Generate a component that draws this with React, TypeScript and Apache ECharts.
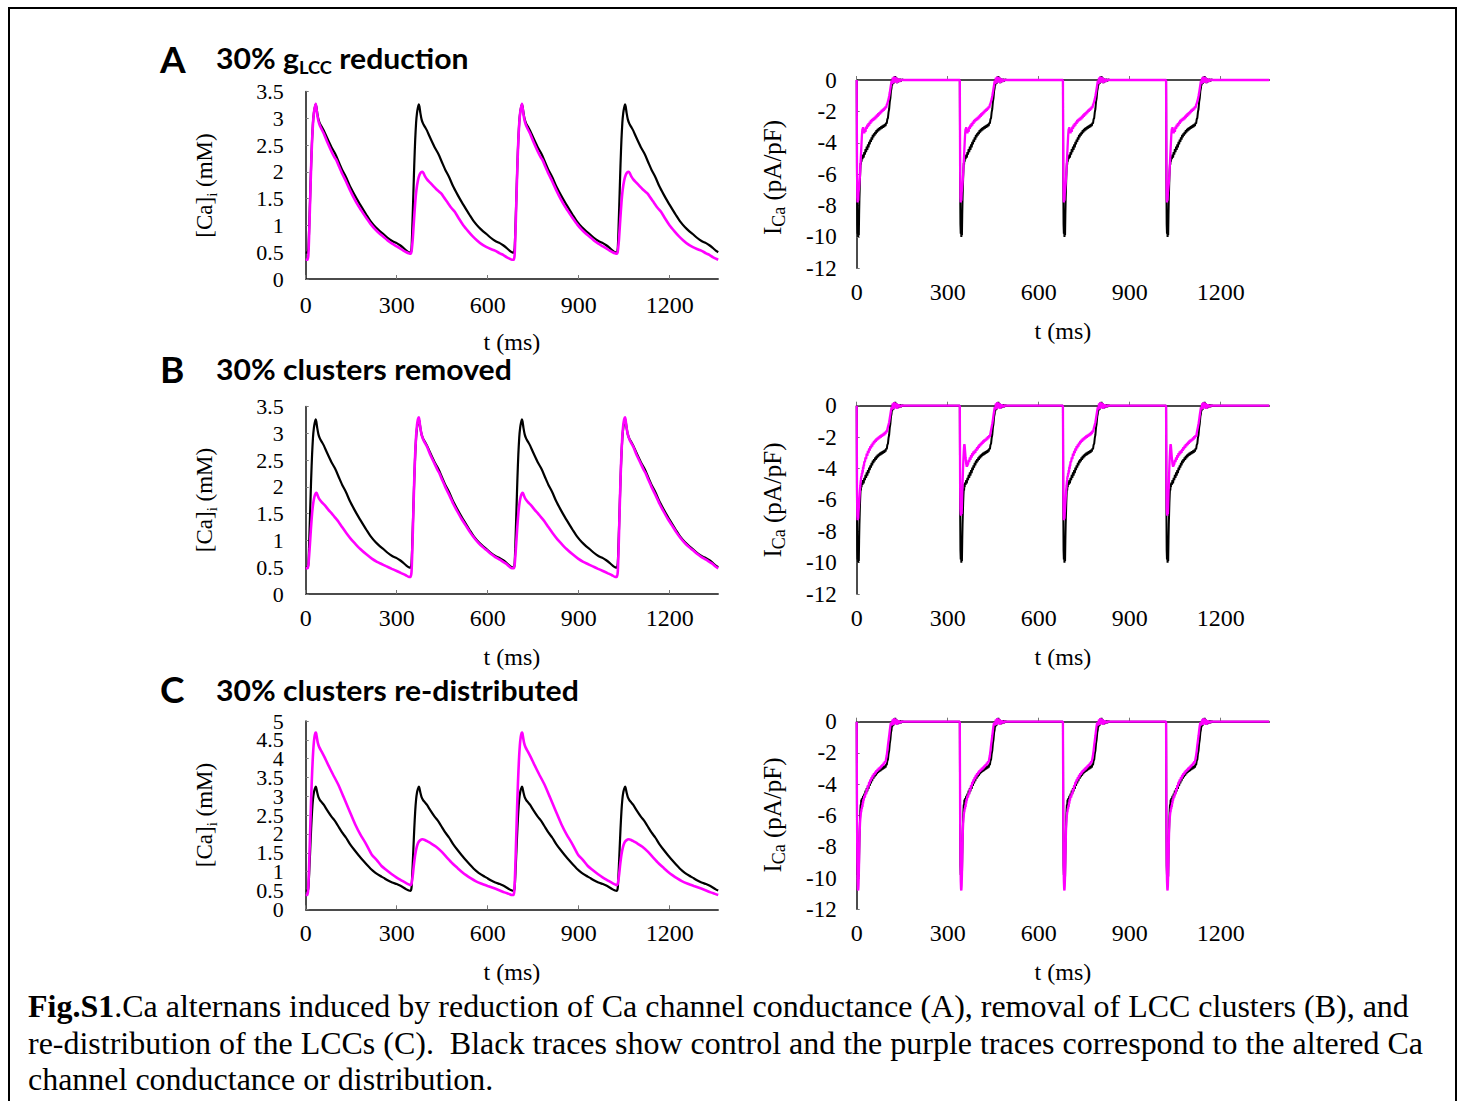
import React, { useEffect, useRef } from "react";
import * as echarts from "echarts";

type Pt = [number, number];

// ---------- axes ----------
const PERIOD = 340;
const T_MAX = 1360;
const X_TICKS = [0, 300, 600, 900, 1200];
const CA_MAX_AB = 3.5;
const CA_MAX_C = 5;
const CA_STEP = 0.5;
const CA_TICKS_AB = [0, 0.5, 1, 1.5, 2, 2.5, 3, 3.5];
const CA_TICKS_C = [0, 0.5, 1, 1.5, 2, 2.5, 3, 3.5, 4, 4.5, 5];
const CA_LABELS_C_WHOLE = [0, 1, 2, 3, 4, 5];
const CA_LABELS_C_HALF = [0.5, 1.5, 2.5, 3.5, 4.5];
const ICA_MIN = -12;
const ICA_STEP = 2;
const ICA_TICKS = [-12, -10, -8, -6, -4, -2, 0];

// ---------- [Ca]i beat shapes (time within beat in ms, value in mM) ----------
const CA_CONTROL_BEAT: Pt[] = [
  [0, 0.5], [6, 0.49], [9, 0.58], [12, 1.05], [15, 1.6], [18, 2.15], [21, 2.6], [24, 2.92], [27, 3.1], [30, 3.2],
  [33, 3.26], [35, 3.22], [38, 3.1], [42, 2.98], [47, 2.9], [53, 2.84], [60, 2.77], [70, 2.64], [85, 2.46],
  [95, 2.36], [101, 2.29], [110, 2.17], [120, 2.04], [133, 1.9], [146, 1.73], [160, 1.58], [175, 1.43],
  [190, 1.29], [201, 1.19], [215, 1.07], [230, 0.97], [245, 0.89], [256, 0.84], [270, 0.77], [285, 0.71],
  [300, 0.67], [311, 0.63], [322, 0.58], [332, 0.53], [340, 0.5],
];
const CA_A_BIG_BEAT: Pt[] = [
  [0, 0.36], [6, 0.36], [9, 0.46], [12, 0.95], [15, 1.55], [18, 2.12], [21, 2.58], [24, 2.9], [27, 3.1], [30, 3.2],
  [33, 3.27], [35, 3.2], [38, 3.07], [42, 2.95], [47, 2.86], [53, 2.79], [60, 2.71], [70, 2.57], [85, 2.38],
  [95, 2.27], [101, 2.22], [110, 2.1], [120, 1.97], [133, 1.82], [146, 1.66], [160, 1.5], [175, 1.35],
  [190, 1.22], [201, 1.13], [215, 1.02], [230, 0.92], [245, 0.84], [256, 0.79], [270, 0.72], [285, 0.66],
  [300, 0.61], [311, 0.57], [322, 0.53], [332, 0.5], [340, 0.48],
];
const CA_A_SMALL_BEAT: Pt[] = [
  [0, 0.48], [6, 0.47], [9, 0.52], [13, 0.75], [17, 1.1], [21, 1.42], [25, 1.66], [30, 1.84], [35, 1.94],
  [40, 1.99], [45, 2.0], [48, 1.98], [53, 1.92], [60, 1.86], [70, 1.8], [80, 1.74], [90, 1.68], [100, 1.63],
  [108, 1.59], [115, 1.53], [125, 1.45], [140, 1.33], [152, 1.25], [165, 1.13], [180, 1.0], [196, 0.89],
  [210, 0.8], [225, 0.72], [240, 0.65], [255, 0.6], [270, 0.56], [284, 0.53], [300, 0.48], [311, 0.45],
  [322, 0.41], [332, 0.38], [340, 0.36],
];
const CA_B_SMALL_BEAT: Pt[] = [
  [0, 0.48], [6, 0.48], [9, 0.55], [13, 0.85], [17, 1.2], [21, 1.5], [25, 1.7], [29, 1.82], [33, 1.88], [36, 1.89],
  [40, 1.83], [45, 1.77], [52, 1.72], [64, 1.65], [75, 1.57], [85, 1.51], [95, 1.44], [108, 1.35], [120, 1.25],
  [135, 1.13], [150, 1.02], [163, 0.94], [180, 0.84], [200, 0.74], [218, 0.66], [235, 0.6], [250, 0.56],
  [265, 0.52], [284, 0.47], [300, 0.43], [315, 0.39], [330, 0.35], [340, 0.32],
];
const CA_B_BIG_BEAT: Pt[] = [
  [0, 0.32], [6, 0.32], [9, 0.42], [12, 0.92], [15, 1.55], [18, 2.15], [21, 2.62], [24, 2.95], [27, 3.15],
  [30, 3.26], [33, 3.3], [35, 3.24], [38, 3.1], [42, 2.98], [47, 2.89], [53, 2.82], [60, 2.75], [70, 2.61],
  [85, 2.43], [95, 2.31], [101, 2.25], [110, 2.13], [120, 2.0], [133, 1.85], [146, 1.69], [160, 1.54],
  [175, 1.39], [190, 1.26], [201, 1.16], [215, 1.05], [230, 0.95], [245, 0.87], [256, 0.82], [270, 0.75],
  [285, 0.69], [300, 0.64], [311, 0.6], [322, 0.56], [332, 0.51], [340, 0.48],
];
const CA_C_BIG_BEAT: Pt[] = [
  [0, 0.38], [5, 0.38], [8, 0.5], [11, 1.1], [14, 1.9], [17, 2.7], [20, 3.4], [23, 3.95], [26, 4.35], [29, 4.58],
  [32, 4.68], [34, 4.69], [36, 4.6], [40, 4.42], [45, 4.3], [53, 4.18], [62, 4.04], [75, 3.82], [90, 3.58],
  [108, 3.3], [125, 2.98], [145, 2.6], [163, 2.26], [180, 1.99], [200, 1.72], [218, 1.45], [235, 1.3],
  [250, 1.15], [265, 1.05], [284, 0.93], [300, 0.84], [315, 0.77], [330, 0.7], [340, 0.66],
];
const CA_C_SMALL_BEAT: Pt[] = [
  [0, 0.66], [5, 0.64], [9, 0.68], [13, 0.9], [17, 1.2], [21, 1.45], [26, 1.65], [31, 1.77], [37, 1.83], [45, 1.86],
  [53, 1.84], [62, 1.8], [75, 1.74], [90, 1.66], [108, 1.53], [125, 1.38], [145, 1.21], [160, 1.1], [174, 1.0],
  [190, 0.9], [205, 0.82], [220, 0.75], [240, 0.68], [260, 0.62], [284, 0.55], [300, 0.5], [315, 0.45],
  [330, 0.41], [340, 0.38],
];

// ---------- I_Ca beat shapes (time within beat in ms, value in pA/pF) ----------
const ICA_TAIL: Pt[] = [
  [117, -0.25], [119, 0.15], [121, -0.2], [123, 0.22], [125, -0.1], [127, 0.2], [129, -0.15], [131, 0.15],
  [133, -0.2], [135, 0.1], [137, -0.1], [139, 0.08], [141, -0.12], [143, 0.05], [146, -0.06], [149, 0.02],
  [153, 0], [340, 0],
];
const ICA_CONTROL_BEAT: Pt[] = [
  [0, 0], [1, -6.5], [2, -9.2], [3, -9.8], [4, -9.4], [5, -10.0], [6, -9.6], [7, -9.9], [8, -8.6], [9, -7.6],
  [10, -6.9], [11, -6.2], [12, -5.7], [13, -5.3], [14, -5.4], [15, -5.0], [16, -5.2], [17, -4.9], [19, -5.05],
  [21, -4.75], [23, -4.95], [25, -4.6], [27, -4.75], [29, -4.4], [31, -4.6], [33, -4.25], [35, -4.45],
  [37, -4.1], [39, -4.3], [41, -3.95], [43, -4.1], [45, -3.8], [47, -3.95], [49, -3.65], [51, -3.8],
  [53, -3.5], [55, -3.65], [57, -3.4], [59, -3.55], [61, -3.3], [63, -3.45], [65, -3.2], [67, -3.35],
  [69, -3.12], [71, -3.27], [73, -3.05], [75, -3.2], [77, -3.0], [79, -3.15], [81, -2.95], [83, -3.1],
  [85, -2.9], [87, -3.05], [89, -2.85], [91, -3.0], [93, -2.8], [95, -2.93], [97, -2.72], [99, -2.78],
  [101, -2.5], [103, -2.42], [105, -2.05], [107, -1.85], [109, -1.4], [111, -1.15], [113, -0.7],
  [115, -0.5], [116, -0.2], [117, -0.35], [119, 0.1], [121, -0.25], [123, 0.2], [125, -0.15], [127, 0.25],
  [129, -0.1], [131, 0.15], [133, -0.2], [135, 0.1], [137, -0.15], [139, 0.05], [141, -0.12], [143, 0.08],
  [146, -0.08], [149, 0.03], [155, 0], [340, 0],
];
const ICA_A_BEAT: Pt[] = [
  [0, 0], [1, -5.5], [2, -7.5], [3, -7.8], [4, -7.5], [5, -7.7], [6, -7.2], [7, -7.0], [8, -6.8], [9, -6.6],
  [10, -6.3], [11, -6.0], [12, -5.6], [13, -5.2], [14, -4.8], [15, -4.4], [16, -4.0], [17, -3.6], [18, -3.3],
  [19, -3.1], [20, -3.25], [21, -3.0], [22, -3.2], [23, -3.35], [24, -3.15], [25, -3.4], [27, -3.1],
  [29, -3.3], [31, -2.98], [33, -3.12], [35, -2.85], [37, -3.0], [39, -2.75], [41, -2.9], [43, -2.65],
  [45, -2.8], [47, -2.55], [49, -2.7], [51, -2.48], [53, -2.62], [55, -2.42], [57, -2.56], [59, -2.35],
  [61, -2.5], [63, -2.28], [65, -2.42], [67, -2.2], [69, -2.34], [71, -2.12], [73, -2.26], [75, -2.05],
  [77, -2.18], [79, -1.98], [81, -2.1], [83, -1.9], [85, -2.03], [87, -1.83], [89, -1.96], [91, -1.76],
  [93, -1.88], [95, -1.68], [97, -1.78], [99, -1.58], [101, -1.5], [103, -1.35], [105, -1.22], [107, -1.02],
  [109, -0.8], [111, -0.55], [113, -0.3], [115, -0.05],
  ...ICA_TAIL,
];
const ICA_B_PLAIN_BEAT: Pt[] = [
  [0, 0], [1, -5.2], [2, -7.0], [3, -7.3], [4, -7.1], [5, -7.2], [6, -6.8], [7, -6.5], [8, -6.2], [9, -5.9],
  [10, -5.6], [11, -5.3], [12, -5.1], [13, -4.85], [14, -4.7], [15, -4.5], [16, -4.55], [17, -4.3],
  [18, -4.4], [19, -4.1], [20, -4.25], [21, -3.9], [22, -4.05], [23, -3.75], [24, -3.85], [25, -3.55],
  [27, -3.6], [29, -3.3], [31, -3.4], [33, -3.05], [35, -3.2], [37, -2.88], [39, -3.02], [41, -2.72],
  [43, -2.86], [45, -2.58], [47, -2.72], [49, -2.47], [51, -2.6], [53, -2.35], [55, -2.48], [57, -2.25],
  [59, -2.38], [61, -2.16], [63, -2.3], [65, -2.08], [67, -2.22], [69, -2.02], [71, -2.15], [73, -1.96],
  [75, -2.1], [77, -1.9], [79, -2.04], [81, -1.85], [83, -1.98], [85, -1.8], [87, -1.93], [89, -1.74],
  [91, -1.88], [93, -1.68], [95, -1.8], [97, -1.6], [99, -1.7], [101, -1.5], [103, -1.35], [105, -1.2],
  [107, -1.05], [109, -0.8], [111, -0.55], [113, -0.3], [115, -0.1],
  ...ICA_TAIL,
];
const ICA_B_NOTCH_BEAT: Pt[] = [
  [0, 0], [1, -5.0], [2, -6.6], [3, -6.9], [4, -7.0], [5, -6.8], [6, -6.9], [7, -6.3], [8, -5.6], [9, -5.0],
  [10, -4.4], [11, -3.8], [12, -3.3], [13, -2.9], [14, -2.6], [15, -2.45], [16, -2.55], [17, -2.8],
  [18, -3.05], [19, -3.3], [20, -3.5], [21, -3.7], [22, -3.8], [23, -3.9], [24, -3.75], [25, -3.85],
  [26, -3.6], [27, -3.75], [29, -3.45], [31, -3.6], [33, -3.3], [35, -3.45], [37, -3.15], [39, -3.3],
  [41, -3.02], [43, -3.18], [45, -2.92], [47, -3.08], [49, -2.85], [51, -3.0], [53, -2.75], [55, -2.88],
  [57, -2.65], [59, -2.78], [61, -2.55], [63, -2.68], [65, -2.45], [67, -2.58], [69, -2.38], [71, -2.5],
  [73, -2.3], [75, -2.42], [77, -2.22], [79, -2.35], [81, -2.15], [83, -2.28], [85, -2.1], [87, -2.22],
  [89, -2.02], [91, -2.15], [93, -1.95], [95, -2.08], [97, -1.88], [99, -1.98], [101, -1.75], [103, -1.55],
  [105, -1.35], [107, -1.15], [109, -0.9], [111, -0.6], [113, -0.35], [115, -0.1],
  ...ICA_TAIL,
];
const ICA_C_BEAT: Pt[] = [
  [0, 0], [1, -6.0], [2, -9.0], [3, -10.2], [4, -10.7], [5, -10.8], [6, -10.5], [7, -9.8], [8, -8.9],
  [9, -7.9], [10, -7.0], [11, -6.5], [12, -6.2], [13, -6.0], [14, -5.8], [15, -5.75], [16, -5.55],
  [17, -5.6], [18, -5.35], [19, -5.45], [20, -5.15], [21, -5.25], [22, -4.95], [23, -5.05], [25, -4.75],
  [27, -4.85], [29, -4.55], [31, -4.65], [33, -4.3], [35, -4.4], [37, -4.05], [39, -4.15], [41, -3.85],
  [43, -3.95], [45, -3.7], [47, -3.8], [49, -3.55], [51, -3.65], [53, -3.4], [55, -3.5], [57, -3.3],
  [59, -3.4], [61, -3.2], [63, -3.3], [65, -3.1], [67, -3.2], [69, -3.02], [71, -3.12], [73, -2.95],
  [75, -3.05], [77, -2.88], [79, -2.98], [81, -2.8], [83, -2.9], [85, -2.72], [87, -2.82], [89, -2.62],
  [91, -2.72], [93, -2.52], [95, -2.6], [97, -2.35], [99, -2.15], [101, -1.85], [103, -1.5], [105, -1.2],
  [107, -0.9], [109, -0.55], [111, -0.25], [113, -0.05], [115, -0.25],
  ...ICA_TAIL.slice(1),
];

// beat order over the 4 stimuli
const CA_A_ALT_BEATS = [CA_A_BIG_BEAT, CA_A_SMALL_BEAT, CA_A_BIG_BEAT, CA_A_SMALL_BEAT];
const CA_B_ALT_BEATS = [CA_B_SMALL_BEAT, CA_B_BIG_BEAT, CA_B_SMALL_BEAT, CA_B_BIG_BEAT];
const CA_C_ALT_BEATS = [CA_C_BIG_BEAT, CA_C_SMALL_BEAT, CA_C_BIG_BEAT, CA_C_SMALL_BEAT];
const CA_CONTROL_BEATS = [CA_CONTROL_BEAT, CA_CONTROL_BEAT, CA_CONTROL_BEAT, CA_CONTROL_BEAT];
const ICA_CONTROL_BEATS = [ICA_CONTROL_BEAT, ICA_CONTROL_BEAT, ICA_CONTROL_BEAT, ICA_CONTROL_BEAT];
const ICA_A_ALT_BEATS = [ICA_A_BEAT, ICA_A_BEAT, ICA_A_BEAT, ICA_A_BEAT];
const ICA_B_ALT_BEATS = [ICA_B_PLAIN_BEAT, ICA_B_NOTCH_BEAT, ICA_B_PLAIN_BEAT, ICA_B_NOTCH_BEAT];
const ICA_C_ALT_BEATS = [ICA_C_BEAT, ICA_C_BEAT, ICA_C_BEAT, ICA_C_BEAT];

const TITLES = ["30% g", "30% clusters removed", "30% clusters re-distributed"];
const LETTERS = ["A", "B", "C"];
const CAPTION_BOLD = "Fig.S1";
const CAPTION_LINES = [
  ".Ca alternans induced by reduction of Ca channel conductance (A), removal of LCC clusters (B), and",
  "re-distribution of the LCCs (C).  Black traces show control and the purple traces correspond to the altered Ca",
  "channel conductance or distribution.",
];

function chain(beats: Pt[][]): Pt[] {
  const out: Pt[] = [];
  beats.forEach((beat, k) => {
    const start = k * PERIOD;
    beat.forEach(([t, v], i) => {
      if (k > 0 && i === 0) return;
      const tt = start + t;
      if (tt <= T_MAX) out.push([tt, v]);
    });
  });
  return out;
}

function measure(text: string, font: string): number {
  const ctx = document.createElement("canvas").getContext("2d");
  if (!ctx) return text.length * 10;
  ctx.font = font;
  return ctx.measureText(text).width;
}

const SERIF = "Liberation Serif";
const SANS = "Lato";
const BLACK = "#000000";
const MAGENTA = "#ff00ff";

// layout of the six plot areas (pixels)
const PLOT_W = 412.5;
const LAYOUT = [
  { left: 305.7, top: 91.5, height: 187.5, labelMargin: 14 },
  { left: 856.7, top: 80, height: 188.3, labelMargin: 12 },
  { left: 305.7, top: 406.5, height: 187.5, labelMargin: 12 },
  { left: 856.7, top: 405.7, height: 188.3, labelMargin: 12 },
  { left: 305.7, top: 721, height: 188.3, labelMargin: 12 },
  { left: 856.7, top: 721.7, height: 187.6, labelMargin: 12 },
];

export default function App() {
  const ref = useRef<HTMLDivElement>(null);

  useEffect(() => {
    if (!ref.current) return;
    const chart = echarts.init(ref.current, undefined, { renderer: "svg" });

    const panels = [
      { kind: "ca", max: CA_MAX_AB, ticks: CA_TICKS_AB, labels: CA_TICKS_AB, control: chain(CA_CONTROL_BEATS), alt: chain(CA_A_ALT_BEATS) },
      { kind: "ica", ticks: ICA_TICKS, labels: ICA_TICKS, control: chain(ICA_CONTROL_BEATS), alt: chain(ICA_A_ALT_BEATS) },
      { kind: "ca", max: CA_MAX_AB, ticks: CA_TICKS_AB, labels: CA_TICKS_AB, control: chain(CA_CONTROL_BEATS), alt: chain(CA_B_ALT_BEATS) },
      { kind: "ica", ticks: ICA_TICKS, labels: ICA_TICKS, control: chain(ICA_CONTROL_BEATS), alt: chain(ICA_B_ALT_BEATS) },
      { kind: "ca", max: CA_MAX_C, ticks: CA_TICKS_C, labels: CA_LABELS_C_WHOLE, control: chain(CA_CONTROL_BEATS), alt: chain(CA_C_ALT_BEATS) },
      { kind: "ica", ticks: ICA_TICKS, labels: ICA_TICKS, control: chain(ICA_CONTROL_BEATS), alt: chain(ICA_C_ALT_BEATS) },
    ];

    const grid = LAYOUT.map((l) => ({
      left: l.left,
      top: l.top,
      width: PLOT_W,
      height: l.height,
      containLabel: false,
      outerBoundsMode: "none",
    }));

    const fmt = (v: number) => String(v);

    const xAxis = LAYOUT.map((l, i) => ({
      gridIndex: i,
      type: "value",
      min: 0,
      max: T_MAX,
      axisLine: { show: true, lineStyle: { color: "#111", width: 1.5 } },
      axisTick: { show: true, inside: true, length: 4, customValues: X_TICKS, lineStyle: { color: "#777", width: 1 } },
      axisLabel: {
        customValues: X_TICKS,
        formatter: fmt,
        color: "#000",
        fontFamily: SERIF,
        fontSize: 24,
        margin: l.labelMargin,
      },
      splitLine: { show: false },
      name: "t (ms)",
      nameLocation: "middle",
      nameGap: 51,
      nameTextStyle: { color: "#000", fontFamily: SERIF, fontSize: 24 },
    }));

    const yAxis: any[] = panels.map((p, i) => {
      const isCa = p.kind === "ca";
      return {
        gridIndex: i,
        type: "value",
        position: "left",
        min: isCa ? 0 : ICA_MIN,
        max: isCa ? p.max : 0,
        interval: isCa ? CA_STEP : ICA_STEP,
        axisLine: { show: true, lineStyle: { color: "#111", width: 1.5 } },
        axisTick: {
          show: true,
          inside: true,
          length: 3,
          customValues: p.ticks,
          lineStyle: { color: "#777", width: 1 },
        },
        axisLabel: {
          customValues: p.labels,
          formatter: fmt,
          color: "#000",
          fontFamily: SERIF,
          fontSize: isCa ? 22 : 23,
          margin: isCa ? 22 : 20,
          showMinLabel: true,
          showMaxLabel: true,
        },
        splitLine: { show: false },
      };
    });
    // second label layer for the densely labelled [Ca]i axis of panel C
    yAxis.push({
      gridIndex: 4,
      type: "value",
      position: "left",
      offset: 0,
      min: 0,
      max: CA_MAX_C,
      interval: CA_STEP,
      axisLine: { show: false },
      axisTick: { show: false },
      axisLabel: {
        customValues: CA_LABELS_C_HALF,
        formatter: fmt,
        color: "#000",
        fontFamily: SERIF,
        fontSize: 22,
        margin: 22,
      },
      splitLine: { show: false },
    });

    const series: any[] = [];
    panels.forEach((p, i) => {
      const isCa = p.kind === "ca";
      series.push({
        type: "line",
        xAxisIndex: i,
        yAxisIndex: i,
        data: p.control,
        showSymbol: false,
        symbol: "none",
        smooth: isCa ? 0.2 : false,
        clip: false,
        lineStyle: { color: BLACK, width: isCa ? 2.2 : 2.0 },
        z: 2,
      });
      series.push({
        type: "line",
        xAxisIndex: i,
        yAxisIndex: i,
        data: p.alt,
        showSymbol: false,
        symbol: "none",
        smooth: isCa ? 0.2 : false,
        clip: false,
        lineStyle: { color: MAGENTA, width: isCa ? 2.6 : 2.3 },
        z: 3,
      });
    });

    // text scaling to match the reference widths
    const titleFont = `bold 28px ${SANS}`;
    const titleScale = 296 / measure(TITLES[1], titleFont);
    const capFontSize = 31;
    const capW =
      measure(CAPTION_BOLD, `bold ${capFontSize}px "${SERIF}"`) +
      measure(CAPTION_LINES[0], `${capFontSize}px "${SERIF}"`);
    const capScale = 1382 / capW;

    const titleRich = {
      b: { fontSize: 28, fontFamily: SANS, fontWeight: "bold" },
      s: { fontSize: 17, fontFamily: SANS, fontWeight: "bold", padding: [18, 0, 0, 0] },
    };
    const titleY = [58.3, 369, 690];
    const letterY = [58.3, 368.5, 688.5];

    const graphic: any[] = [
      {
        type: "rect",
        shape: { x: 9, y: 8, width: 1447, height: 1110 },
        style: { fill: "none", stroke: "#000", lineWidth: 2 },
        silent: true,
      },
    ];
    LETTERS.forEach((L, i) => {
      graphic.push({
        type: "text",
        x: 160,
        y: letterY[i],
        style: {
          text: L,
          fontSize: 37,
          fontWeight: "bold",
          fontFamily: SANS,
          fill: "#000",
          align: "left",
          verticalAlign: "middle",
        },
      });
    });
    graphic.push({
      type: "text",
      x: 216,
      y: titleY[0],
      scaleX: titleScale,
      style: {
        text: `{b|${TITLES[0]}}{s|LCC}{b| reduction}`,
        rich: titleRich,
        fill: "#000",
        align: "left",
        verticalAlign: "middle",
      },
    });
    [1, 2].forEach((i) => {
      graphic.push({
        type: "text",
        x: 216,
        y: titleY[i],
        scaleX: titleScale,
        style: {
          text: TITLES[i],
          fontSize: 28,
          fontWeight: "bold",
          fontFamily: SANS,
          fill: "#000",
          align: "left",
          verticalAlign: "middle",
        },
      });
    });

    const caNameY = [185.5, 500, 815];
    const icaNameY = [177.5, 500, 815];
    caNameY.forEach((y) => {
      graphic.push({
        type: "text",
        x: 204,
        y,
        rotation: Math.PI / 2,
        style: {
          text: "{m|[Ca]}{s|i}{m| (mM)}",
          rich: {
            m: { fontSize: 23, fontFamily: SERIF },
            s: { fontSize: 15, fontFamily: SERIF, padding: [16, 0, 0, 0] },
          },
          fill: "#000",
          align: "center",
          verticalAlign: "middle",
        },
      });
    });
    icaNameY.forEach((y) => {
      graphic.push({
        type: "text",
        x: 772,
        y,
        rotation: Math.PI / 2,
        style: {
          text: "{m|I}{s|Ca}{m| (pA/pF)}",
          rich: {
            m: { fontSize: 25, fontFamily: SERIF },
            s: { fontSize: 18, fontFamily: SERIF, padding: [14, 0, 0, 0] },
          },
          fill: "#000",
          align: "center",
          verticalAlign: "middle",
        },
      });
    });

    const capY = [1007, 1043.5, 1080];
    CAPTION_LINES.forEach((line, i) => {
      graphic.push({
        type: "text",
        x: 28,
        y: capY[i],
        scaleX: capScale,
        style: {
          text: i === 0 ? `{b|${CAPTION_BOLD}}{r|${line}}` : `{r|${line}}`,
          rich: {
            b: { fontSize: capFontSize, fontFamily: SERIF, fontWeight: "bold" },
            r: { fontSize: capFontSize, fontFamily: SERIF },
          },
          fill: "#000",
          align: "left",
          verticalAlign: "middle",
        },
      });
    });

    chart.setOption({
      animation: false,
      backgroundColor: "#ffffff",
      textStyle: { fontFamily: SERIF },
      grid,
      xAxis,
      yAxis,
      series,
      graphic,
    });

    return () => chart.dispose();
  }, []);

  return (
    <div
      ref={ref}
      style={{ position: "absolute", left: 0, top: 0, width: 1463, height: 1101, background: "#fff" }}
    />
  );
}
